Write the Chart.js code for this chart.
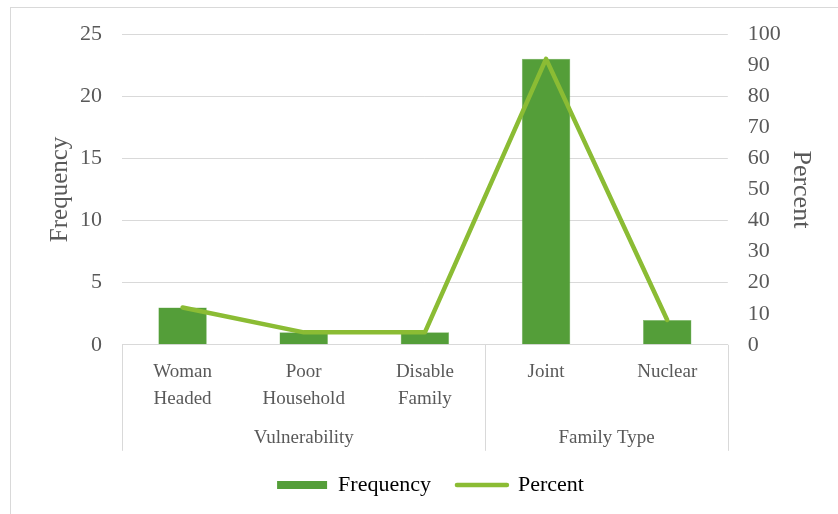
<!DOCTYPE html>
<html>
<head>
<meta charset="utf-8">
<script src="https://cdn.jsdelivr.net/npm/chart.js@4/dist/chart.umd.min.js"></script>
<style>
  body { margin: 0; background: #fff; }
  #wrap { width: 838px; height: 514px; }
</style>
</head>
<body>
<div id="wrap"><canvas id="chart" width="838" height="514"></canvas></div>
<script>
// Data
const categories = [['Woman', 'Headed'], ['Poor', 'Household'], ['Disable', 'Family'], 'Joint', 'Nuclear'];
const groupLabels = ['Vulnerability', 'Family Type'];
const groupSizes = [3, 2];
const frequency = [3, 1, 1, 23, 2];
const percent = [12, 4, 4, 92, 8];

const barColor = '#549e39';
const lineColor = '#8bbc34';
const textColor = '#595959';
const gridColor = '#d9d9d9';
const fontFamily = "'Liberation Serif', 'Times New Roman', serif";

// Outer frame plus the two-level category axis (group labels + separators)
const groupAxisPlugin = {
  id: 'groupAxis',
  beforeDraw(chart) {
    const ctx = chart.ctx;
    ctx.save();
    ctx.strokeStyle = gridColor;
    ctx.lineWidth = 1;
    ctx.strokeRect(10.5, 7.5, chart.width + 20, chart.height + 20);
    ctx.restore();
  },
  afterDraw(chart) {
    const ctx = chart.ctx;
    const x = chart.scales.x;
    const top = chart.chartArea.bottom;
    const bottom = top + 106;
    const half = (x.getPixelForValue(1) - x.getPixelForValue(0)) / 2;

    ctx.save();
    ctx.strokeStyle = gridColor;
    ctx.lineWidth = 1;
    ctx.fillStyle = textColor;
    ctx.font = '19px ' + fontFamily;
    ctx.textAlign = 'center';
    ctx.textBaseline = 'middle';

    let start = 0;
    const edges = [x.getPixelForValue(0) - half];
    groupSizes.forEach((size, i) => {
      const end = start + size - 1;
      const left = x.getPixelForValue(start) - half;
      const right = x.getPixelForValue(end) + half;
      edges.push(right);
      ctx.fillText(groupLabels[i], (left + right) / 2, top + 93);
      start += size;
    });
    edges.forEach(px => {
      const xx = Math.round(px) + 0.5;
      ctx.beginPath();
      ctx.moveTo(xx, top);
      ctx.lineTo(xx, bottom);
      ctx.stroke();
    });
    ctx.restore();
  }
};

const ctx = document.getElementById('chart').getContext('2d');
new Chart(ctx, {
  data: {
    labels: categories,
    datasets: [
      {
        type: 'line',
        label: 'Percent',
        data: percent,
        yAxisID: 'y1',
        borderColor: lineColor,
        backgroundColor: lineColor,
        borderWidth: 4.5,
        pointRadius: 0,
        borderJoinStyle: 'round',
        borderCapStyle: 'round',
        tension: 0,
        order: 0
      },
      {
        type: 'bar',
        label: 'Frequency',
        data: frequency,
        yAxisID: 'y',
        backgroundColor: barColor,
        borderColor: '#7fb86a',
        borderWidth: 0.5,
        barPercentage: 0.4,
        categoryPercentage: 1,
        order: 1
      }
    ]
  },
  options: {
    responsive: false,
    animation: false,
    layout: { padding: { left: 45, right: 22, top: 34, bottom: 8 } },
    plugins: {
      tooltip: { enabled: false },
      legend: {
        position: 'bottom',
        labels: {
          color: textColor,
          font: { family: fontFamily, size: 22 },
          usePointStyle: true,
          pointStyleWidth: 50,
          boxHeight: 8,
          padding: 26,
          generateLabels() {
            return [
              { text: 'Frequency', fillStyle: barColor, strokeStyle: barColor, lineWidth: 0, pointStyle: 'rect', datasetIndex: 1 },
              { text: 'Percent', fillStyle: lineColor, strokeStyle: lineColor, lineWidth: 4.5, lineCap: 'round', pointStyle: 'line', datasetIndex: 0 }
            ];
          }
        }
      }
    },
    scales: {
      x: {
        grid: { display: false, drawTicks: false },
        border: { display: true, color: gridColor },
        ticks: {
          color: textColor,
          font: { family: fontFamily, size: 19, lineHeight: 1.4 },
          padding: 14,
          maxRotation: 0,
          autoSkip: false
        },
        afterFit(scale) { scale.height += 22; }
      },
      y: {
        position: 'left',
        min: 0,
        max: 25,
        ticks: {
          stepSize: 5,
          color: textColor,
          font: { family: fontFamily, size: 22 },
          padding: 20
        },
        grid: { color: gridColor, drawTicks: false },
        border: { display: false },
        title: {
          display: true,
          text: 'Frequency',
          color: textColor,
          font: { family: fontFamily, size: 25 },
          padding: { top: 0, bottom: 5 }
        },
        afterFit(scale) { scale.width -= 20; }
      },
      y1: {
        position: 'right',
        min: 0,
        max: 100,
        ticks: {
          stepSize: 10,
          color: textColor,
          font: { family: fontFamily, size: 22 },
          padding: 20
        },
        grid: { display: false, drawTicks: false },
        border: { display: false },
        title: {
          display: true,
          text: 'Percent',
          color: textColor,
          font: { family: fontFamily, size: 26 },
          padding: { top: 0, bottom: 4 }
        },
        afterFit(scale) { scale.width -= 20; }
      }
    }
  },
  plugins: [groupAxisPlugin]
});
</script>
</body>
</html>
